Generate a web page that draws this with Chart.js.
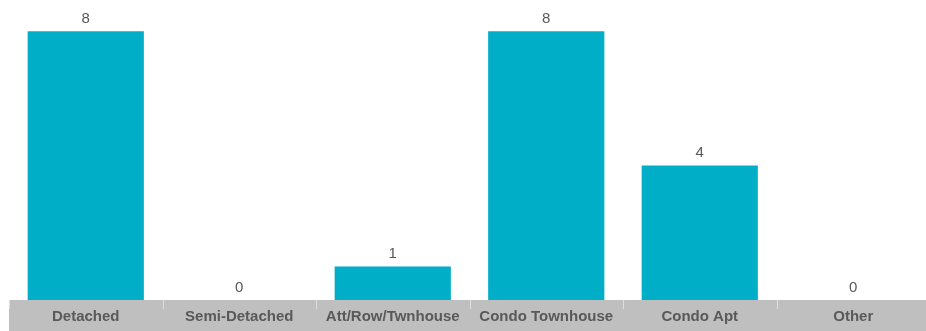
<!DOCTYPE html>
<html>
<head>
<meta charset="utf-8">
<script src="https://cdn.jsdelivr.net/npm/chart.js@4/dist/chart.umd.min.js"></script>
<style>
  html, body { margin: 0; padding: 0; background: #fff; }
  #wrap { width: 926px; height: 331px; overflow: hidden; }
</style>
</head>
<body>
<div id="wrap"><canvas id="chart" width="930" height="331"></canvas></div>
<script>
const categories = ['Detached', 'Semi-Detached', 'Att/Row/Twnhouse', 'Condo Townhouse', 'Condo Apt', 'Other'];
const counts = [8, 0, 1, 8, 4, 0];
const yMax = 8.93;

const barColor = '#00aec7';
const textColor = '#595959';

// grey band behind the category labels, with short light separators
const axisBand = {
    id: 'axisBand',
    beforeDraw(chart) {
        const { ctx, chartArea, scales } = chart;
        const x = scales.x;
        ctx.save();
        ctx.fillStyle = '#bfbfbf';
        ctx.fillRect(x.left, chartArea.bottom, x.right - x.left, chart.height - chartArea.bottom);
        ctx.strokeStyle = '#dedede';
        ctx.lineWidth = 1;
        const step = (x.right - x.left) / categories.length;
        for (let i = 0; i < categories.length; i++) {
            const px = Math.round(x.left + i * step) + 0.5;
            ctx.beginPath();
            ctx.moveTo(px, chartArea.bottom);
            ctx.lineTo(px, chartArea.bottom + 9);
            ctx.stroke();
        }
        ctx.restore();
    }
};

// value labels above each bar
const valueLabels = {
    id: 'valueLabels',
    afterDatasetsDraw(chart) {
        const { ctx } = chart;
        const meta = chart.getDatasetMeta(0);
        ctx.save();
        ctx.font = '15px "Liberation Sans", Arial, sans-serif';
        ctx.fillStyle = textColor;
        ctx.textAlign = 'center';
        ctx.textBaseline = 'bottom';
        meta.data.forEach((bar, i) => {
            ctx.fillText(String(counts[i]), bar.x, bar.y - 5);
        });
        ctx.restore();
    }
};

new Chart(document.getElementById('chart'), {
    type: 'bar',
    data: {
        labels: categories,
        datasets: [{
            data: counts,
            backgroundColor: barColor,
            barPercentage: 0.757,
            categoryPercentage: 1.0
        }]
    },
    options: {
        responsive: false,
        animation: false,
        layout: { padding: { left: 9, right: 0, top: 0, bottom: 0 } },
        plugins: {
            legend: { display: false },
            tooltip: { enabled: false }
        },
        scales: {
            x: {
                grid: { display: false },
                border: { display: false },
                ticks: {
                    color: textColor,
                    padding: 0,
                    maxRotation: 0,
                    autoSkip: false,
                    font: { family: '"Liberation Sans", Arial, sans-serif', size: 15, weight: 'bold' }
                },
                afterFit(scale) { scale.height = 31; }
            },
            y: {
                display: false,
                min: 0,
                max: yMax
            }
        }
    },
    plugins: [axisBand, valueLabels]
});
</script>
</body>
</html>
